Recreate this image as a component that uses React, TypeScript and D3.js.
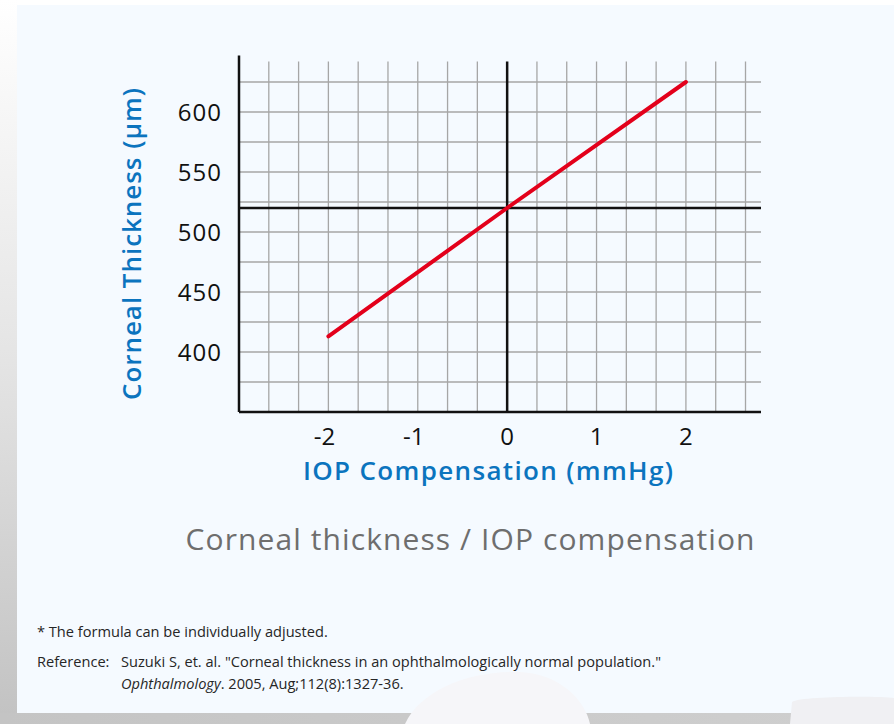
import React from "react";
import * as d3 from "d3";

const width = 894;
const height = 724;
const margin = { top: 52, right: 133, bottom: 312, left: 239 };

// IOP compensation (mmHg) vs corneal thickness (µm)
const iopComp = [-2, 0, 2];
const thickness = [413, 520, 625];
const xTicks = [-2, -1, 0, 1, 2];
const yTicks = [400, 450, 500, 550, 600];
const refThickness = 520;

const font = "'Open Sans', 'DejaVu Sans', sans-serif";
const blue = "#0b74be";

export default function App() {
  const x = d3.scaleLinear().domain([-3, 2.84]).range([margin.left, width - margin.right]);
  const y = d3.scaleLinear().domain([350, 650]).range([height - margin.bottom, margin.top]);

  const xGrid = d3.range(-8, 9).map(i => i / 3);
  const yGrid = d3.range(375, 626, 25);
  const gridTop = y(642);

  const line = d3.line<number>()
    .x((d, i) => x(iopComp[i]))
    .y(d => y(d));

  return (
    <svg width={width} height={height} style={{ position: "absolute", left: 0, top: 0 }} fontFamily={font}>
      <defs>
        <linearGradient id="leftShade" x1="0" y1="0" x2="0" y2="1">
          <stop offset="0" stopColor="#ffffff" />
          <stop offset="0.5" stopColor="#e4e4e4" />
          <stop offset="1" stopColor="#c2c2c2" />
        </linearGradient>
        <linearGradient id="bottomShade" x1="0" y1="0" x2="1" y2="0">
          <stop offset="0" stopColor="#c4c4c4" />
          <stop offset="1" stopColor="#cfcfcf" />
        </linearGradient>
      </defs>
      <rect width={width} height={height} fill="#ffffff" />
      <rect x={0} y={0} width={17} height={height} fill="url(#leftShade)" />
      <rect x={0} y={713} width={width} height={11} fill="url(#bottomShade)" />
      <rect x={17} y={5} width={width - 17} height={708} fill="#f5faff" />
      {/* soft white product shapes at the bottom edge */}
      <path d="M 405 724 C 420 690, 470 670, 520 672 C 560 674, 585 700, 590 724 Z" fill="#f6f6f9" />
      <path d="M 790 724 L 792 702 C 800 696, 880 696, 894 698 L 894 724 Z" fill="#f0f0f3" />

      {/* grid */}
      <g stroke="#a6a6a6" strokeWidth={1.3}>
        {xGrid.filter(v => v !== 0).map(v => (
          <line key={"gx" + v} x1={x(v)} x2={x(v)} y1={gridTop} y2={y(350)} />
        ))}
        {yGrid.map(v => (
          <line key={"gy" + v} x1={x(-3)} x2={x(2.84)} y1={y(v)} y2={y(v)} />
        ))}
      </g>

      {/* axes */}
      <g stroke="#111" strokeWidth={2.5}>
        <line x1={x(-3)} x2={x(-3)} y1={y(647)} y2={y(350)} />
        <line x1={x(-3)} x2={x(2.84)} y1={y(350)} y2={y(350)} />
        <line x1={x(0)} x2={x(0)} y1={gridTop} y2={y(350)} />
        <line x1={x(-3)} x2={x(2.84)} y1={y(refThickness)} y2={y(refThickness)} />
      </g>

      <path d={line(thickness) || ""} fill="none" stroke="#e3001b" strokeWidth={4} strokeLinecap="round" />

      {/* tick labels */}
      {yTicks.map(v => (
        <text key={"yt" + v} x={222} y={y(v)} dy="0.36em" textAnchor="end" fontSize={24} fill="#111" letterSpacing={1}>
          {v}
        </text>
      ))}
      {xTicks.map(v => (
        <text key={"xt" + v} x={x(v) - (v < 0 ? 4 : 0)} y={445} textAnchor="middle" fontSize={24} fill="#111">
          {v}
        </text>
      ))}

      {/* axis titles */}
      <text x={488} y={480} textAnchor="middle" fontSize={26} fontWeight={600} fill={blue} textLength={370}>
        IOP Compensation (mmHg)
      </text>
      <text transform="translate(141,244) rotate(-90)" textAnchor="middle" fontSize={26} fontWeight={600} fill={blue} textLength={312}>
        Corneal Thickness (µm)
      </text>

      <text x={470} y={550} textAnchor="middle" fontSize={30} fontWeight={500} fill="#6e6e6e" textLength={569}>
        Corneal thickness / IOP compensation
      </text>

      {/* footnotes */}
      <g fontSize={14.6} fill="#262626">
        <text x={37} y={637}>* The formula can be individually adjusted.</text>
        <text x={37} y={667}>Reference:</text>
        <text x={121} y={667}>Suzuki S, et. al. "Corneal thickness in an ophthalmologically normal population."</text>
        <text x={121} y={689}>
          <tspan fontStyle="italic">Ophthalmology</tspan>. 2005, Aug;112(8):1327-36.
        </text>
      </g>
    </svg>
  );
}
